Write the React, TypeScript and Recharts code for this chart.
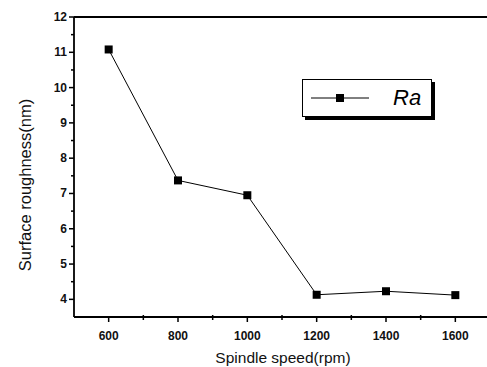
import React from "react";
import {
  LineChart,
  Line,
  XAxis,
  YAxis,
  Legend,
  ReferenceLine,
} from "recharts";

const speeds = [600, 800, 1000, 1200, 1400, 1600];
const roughness = [11.08, 7.37, 6.95, 4.13, 4.23, 4.12];
const xTicks = [500, 600, 700, 800, 900, 1000, 1100, 1200, 1300, 1400, 1500, 1600, 1700];
const yTicks = [3.5, 4, 4.5, 5, 5.5, 6, 6.5, 7, 7.5, 8, 8.5, 9, 9.5, 10, 10.5, 11, 11.5, 12];

const data = speeds.map((s, i) => ({ speed: s, Ra: roughness[i] }));

const font = "'Liberation Sans', Arial, sans-serif";

const XTick = (props: any) => {
  const { x, y, payload } = props;
  const v = payload.value;
  const major = v % 200 === 0;
  if (v === 500 || v === 1700) return null;
  return (
    <g>
      <line x1={x} x2={x} y1={y - (major ? 0 : 2)} y2={y + (major ? 5 : 3)} stroke="#000" strokeWidth={1.5} />
      {major && (
        <text x={x} y={y + 23} textAnchor="middle" fontSize={12} fontWeight="bold" fontFamily={font} fill="#111">
          {v}
        </text>
      )}
    </g>
  );
};

const YTick = (props: any) => {
  const { x, y, payload } = props;
  const v = payload.value;
  const major = Number.isInteger(v);
  if (v === 3.5) return null;
  return (
    <g>
      <line x1={x - (major ? 5 : 3)} x2={x} y1={y} y2={y} stroke="#000" strokeWidth={1.5} />
      {major && (
        <text x={x - 7} y={y + 4} textAnchor="end" fontSize={12} fontWeight="bold" fontFamily={font} fill="#111">
          {v}
        </text>
      )}
    </g>
  );
};

const SquareDot = (props: any) => {
  const { cx, cy } = props;
  return <rect x={cx - 4} y={cy - 4} width={8} height={8} fill="#000" />;
};

const LegendBox = (props: any) => {
  const { payload } = props;
  return (
    <div
      style={{
        width: 130,
        height: 38,
        border: "1px solid #000",
        boxShadow: "3px 3px 0 #000",
        background: "#fff",
        display: "flex",
        alignItems: "center",
        boxSizing: "border-box",
      }}
    >
      {(payload || []).map((p: any) => (
        <React.Fragment key={p.value}>
          <svg width={82} height={20} style={{ marginLeft: 8 }}>
            <line x1={0} x2={58} y1={10} y2={10} stroke="#000" strokeWidth={1} />
            <rect x={25} y={6} width={8} height={8} fill="#000" />
          </svg>
          <span style={{ fontFamily: font, fontStyle: "italic", fontSize: 22, color: "#000" }}>
            {p.value}
          </span>
        </React.Fragment>
      ))}
    </div>
  );
};

const YLabel = () => (
  <text
    x={25}
    y={185}
    transform="rotate(-90 25 185)"
    textAnchor="middle"
    dominantBaseline="central"
    fontSize={16.5}
    fontFamily={font}
    fill="#111"
  >
    Surface roughness(nm)
  </text>
);

const XLabel = () => (
  <text x={283} y={363} textAnchor="middle" fontSize={15.5} fontFamily={font} fill="#111">
    Spindle speed(rpm)
  </text>
);

export default function App() {
  return (
    <div style={{ position: "absolute", left: 0, top: 0, width: 487, height: 367, overflow: "hidden", background: "#fff" }}>
      <LineChart
        width={492}
        height={367}
        data={data}
        margin={{ top: 17, right: 2, left: 73, bottom: 49 }}
      >
        <XAxis
          dataKey="speed"
          type="number"
          domain={[500, 1700]}
          ticks={xTicks}
          interval={0}
          height={1}
          tickSize={0}
          tickMargin={0}
          tick={<XTick />}
          axisLine={{ stroke: "#000", strokeWidth: 1.8 }}
          label={<XLabel />}
        />
        <YAxis
          type="number"
          domain={[3.5, 12]}
          ticks={yTicks}
          interval={0}
          width={1}
          tickSize={0}
          tickMargin={0}
          tick={<YTick />}
          axisLine={{ stroke: "#000", strokeWidth: 1.8 }}
          label={<YLabel />}
        />
        <ReferenceLine y={12} stroke="#000" strokeWidth={1.8} />
        <Legend
          layout="vertical"
          align="center"
          verticalAlign="middle"
          content={<LegendBox />}
          wrapperStyle={{ position: "absolute", left: 302, top: 79, width: 134 }}
        />
        <Line
          dataKey="Ra"
          name="Ra"
          stroke="#000"
          strokeWidth={1}
          dot={<SquareDot />}
          activeDot={false}
          isAnimationActive={false}
        />
      </LineChart>
    </div>
  );
}
